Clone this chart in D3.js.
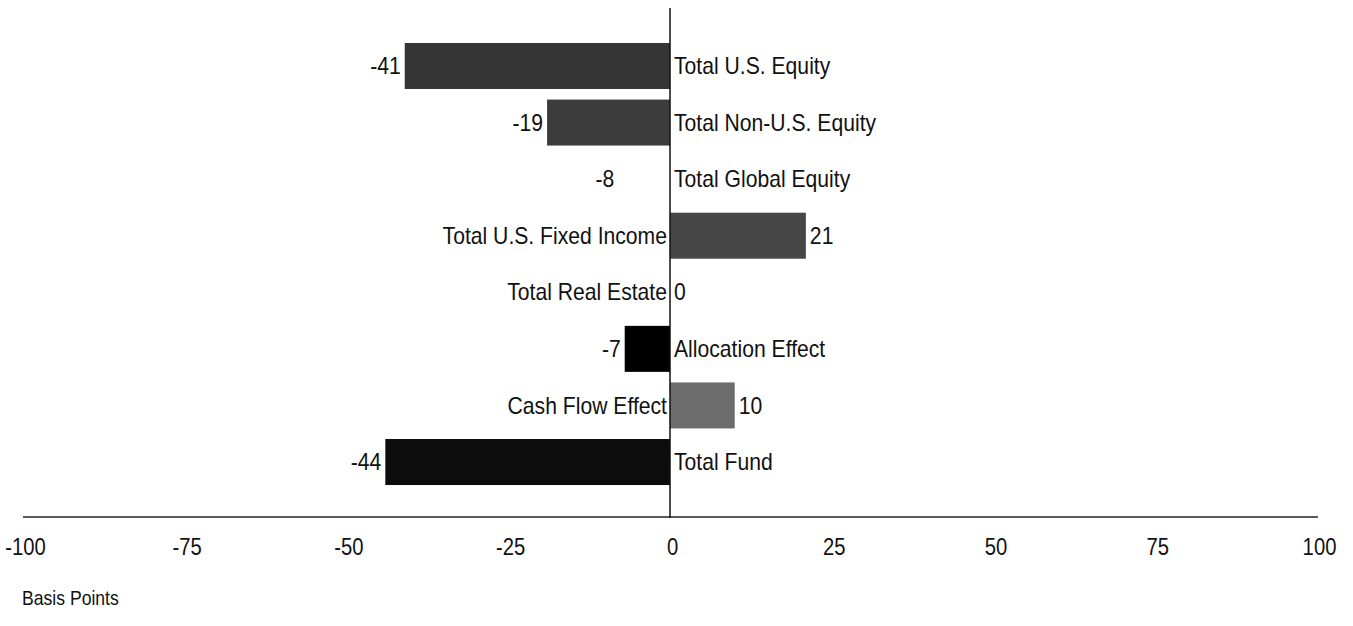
<!DOCTYPE html>
<html>
<head>
<meta charset="utf-8">
<script src="https://cdn.jsdelivr.net/npm/d3@7"></script>
<style>
  html, body { margin: 0; padding: 0; background: #fff; }
  svg text { font-family: "Liberation Sans", Arial, sans-serif; fill: #111; }
</style>
</head>
<body>
<svg id="chart" width="1353" height="626"></svg>
<script>
const categories = ["Total U.S. Equity", "Total Non-U.S. Equity", "Total Global Equity",
  "Total U.S. Fixed Income", "Total Real Estate", "Allocation Effect", "Cash Flow Effect", "Total Fund"];
const values = [-41, -19, -8, 21, 0, -7, 10, -44];
const barColors = ["#353535", "#3c3c3c", "#ffffff", "#474747", "#444444", "#000000", "#6c6c6c", "#0c0c0c"];
const tickValues = [-100, -75, -50, -25, 0, 25, 50, 75, 100];
const axisTitle = "Basis Points";

const FS = 23, SX = 0.92, SXT = 0.88;
const svg = d3.select("#chart");
const x = d3.scaleLinear().domain([-100, 100]).range([23, 1317]);
const y = d3.scaleBand().domain(categories).range([37.7, 490.3])
  .paddingInner(0.187).paddingOuter(0.0935);

const data = categories.map((c, i) => ({ c, v: values[i], col: barColors[i] }));

// bars
svg.append("g").selectAll("rect").data(data).join("rect")
  .attr("x", d => x(Math.min(0, d.v)))
  .attr("width", d => Math.abs(x(d.v) - x(0)))
  .attr("y", d => y(d.c))
  .attr("height", y.bandwidth())
  .attr("fill", d => d.col);

// horizontal axis line
svg.append("line")
  .attr("x1", x(-100)).attr("x2", x(100) + 1)
  .attr("y1", 517).attr("y2", 517)
  .attr("stroke", "#222").attr("stroke-width", 1.3);

// vertical zero line
svg.append("line")
  .attr("x1", x(0)).attr("x2", x(0))
  .attr("y1", 8).attr("y2", 518)
  .attr("stroke", "#111").attr("stroke-width", 1.5);

// tick labels via axis
const axis = d3.axisBottom(x).tickValues(tickValues).tickSize(0).tickPadding(0)
  .tickFormat(d => String(d));
const ag = svg.append("g").attr("transform", "translate(2,539)").call(axis);
ag.select(".domain").remove();
ag.selectAll("text").attr("font-size", FS).attr("fill", "#111")
  .attr("transform", `scale(${SXT},1)`)
  .style("font-family", "'Liberation Sans', Arial, sans-serif");

function place(sel, fx, fy) {
  sel.attr("transform", d => `translate(${fx(d)},${fy(d)}) scale(${SX},1)`);
}

// category labels
const cat = svg.append("g").selectAll("text").data(data).join("text")
  .attr("dy", "0.35em")
  .attr("text-anchor", d => d.v >= 0 ? "end" : "start")
  .attr("font-size", FS)
  .text(d => d.c);
place(cat, d => d.v >= 0 ? x(0) - 3 : x(0) + 4, d => y(d.c) + y.bandwidth() / 2);

// value labels
const val = svg.append("g").selectAll("text").data(data).join("text")
  .attr("dy", "0.35em")
  .attr("text-anchor", d => d.v < 0 ? "end" : "start")
  .attr("font-size", FS)
  .text(d => d.v);
place(val, d => d.v < 0 ? x(d.v) - 4 : x(d.v) + 4, d => y(d.c) + y.bandwidth() / 2);

// axis title
svg.append("text").attr("dy", "0.35em")
  .attr("transform", `translate(22,598) scale(${SXT},1)`)
  .attr("font-size", 20).text(axisTitle);
</script>
</body>
</html>
